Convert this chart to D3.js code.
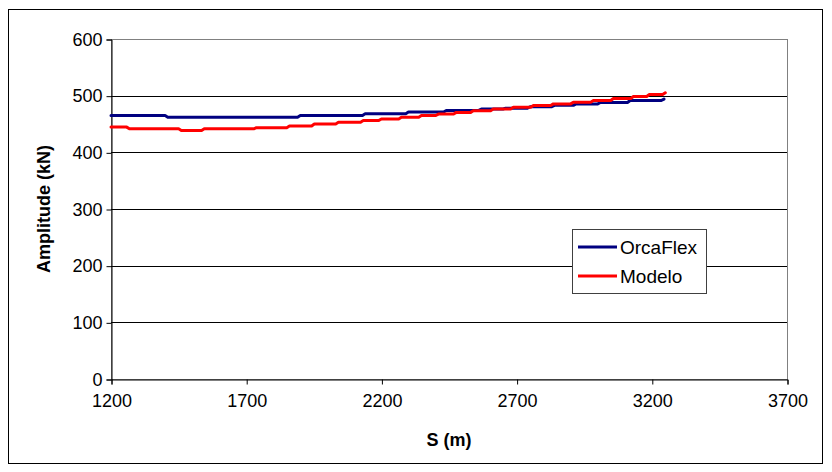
<!DOCTYPE html>
<html><head><meta charset="utf-8">
<script src="https://cdn.jsdelivr.net/npm/d3@7"></script>
<style>body{margin:0;background:#fff}svg{display:block;font-family:"Liberation Sans",Arial,sans-serif}</style>
</head><body><svg id="c" width="832" height="472"></svg>
<script>
const xTicks = [1200,1700,2200,2700,3200,3700];
const yTicks = [0,100,200,300,400,500,600];
const seriesNames = ["OrcaFlex","Modelo"];
const orcaflexS = [1200,1400,1410,1890,1900,2130,2140,2290,2300,2430,2440,2560,2570,2650,2660,2740,2750,2830,2840,2910,2920,3000,3010,3110,3120,3235,3245];
const orcaflexV = [465,465,462,462,465,465,468,468,471,471,474,474,476.5,476.5,478,478,480.5,480.5,483,483,485.5,485.5,488,488,491.5,491.5,494];
const modeloS = [1200,1258,1268,1450,1460,1535,1545,1728,1738,1850,1860,1942,1952,2031,2041,2123,2133,2190,2200,2264,2274,2338,2348,2401,2411,2467,2477,2530,2540,2604,2614,2678,2688,2752,2762,2826,2836,2900,2910,2974,2984,3048,3058,3122,3132,3181,3191,3240,3250];
const modeloV = [444.5,444.5,441.5,441.5,438.5,438.5,441.5,441.5,443.5,443.5,446.5,446.5,450,450,453,453,456,456,459,459,462,462,465,465,467.5,467.5,470.5,470.5,473.5,473.5,476.5,476.5,479.5,479.5,482.5,482.5,485.5,485.5,488.5,488.5,491.5,491.5,495,495,498.5,498.5,502,502,505];
const colors = ["#000080","#ff0000"];

const svg = d3.select("#c");
const L=111,R=787,T=39,B=379;
const x = d3.scaleLinear().domain([1200,3700]).range([L,R]);
const y = d3.scaleLinear().domain([0,600]).range([B,T]);

svg.append("rect").attr("x",8.5).attr("y",9.5).attr("width",814).attr("height",454)
  .attr("fill","#fff").attr("stroke","#000").attr("stroke-width",1);

// plot border
svg.append("rect").attr("x",L+0.5).attr("y",T+0.5).attr("width",R-L).attr("height",B-T)
  .attr("fill","none").attr("stroke","#808080").attr("stroke-width",1);

// gridlines
svg.append("g").selectAll("line").data(yTicks.filter(d=>d>0&&d<600)).join("line")
  .attr("x1",L).attr("x2",R).attr("y1",d=>Math.round(y(d))+0.5).attr("y2",d=>Math.round(y(d))+0.5)
  .attr("stroke","#000").attr("stroke-width",1);

// axes
const yAxis = svg.append("g").attr("transform",`translate(${L+0.5},0.5)`)
  .call(d3.axisLeft(y).tickValues(yTicks).tickSize(5).tickPadding(4).tickFormat(d3.format("d")));
const xAxis = svg.append("g").attr("transform",`translate(0.5,${B+0.5})`)
  .call(d3.axisBottom(x).tickValues(xTicks).tickSize(5).tickPadding(6).tickFormat(d3.format("d")));
[yAxis,xAxis].forEach(a=>{
  a.select(".domain").attr("stroke","#000");
  a.selectAll(".tick line").attr("stroke","#000");
  a.selectAll("text").attr("font-size","18px").attr("fill","#000").attr("font-family","Liberation Sans, Arial, sans-serif");
});
xAxis.selectAll("text").attr("dy","0.9em");

// lines
const line = d3.line().x(d=>x(d[0])).y(d=>y(d[1]));
const data = [d3.zip(orcaflexS,orcaflexV), d3.zip(modeloS,modeloV)];
svg.append("g").selectAll("path").data(data).join("path")
  .attr("d",line).attr("fill","none").attr("stroke",(d,i)=>colors[i])
  .attr("stroke-width",3).attr("stroke-linejoin","round").attr("stroke-linecap","round");

// axis titles
svg.append("text").attr("x",(L+R)/2).attr("y",446).attr("text-anchor","middle")
  .attr("font-size","18px").attr("font-weight","bold").text("S (m)");
svg.append("text").attr("transform",`translate(50,${(T+B)/2}) rotate(-90)`).attr("text-anchor","middle")
  .attr("font-size","18px").attr("font-weight","bold").text("Amplitude (kN)");

// legend
const lg = svg.append("g");
lg.append("rect").attr("x",572.5).attr("y",229.5).attr("width",134).attr("height",64)
  .attr("fill","#fff").attr("stroke","#404040").attr("stroke-width",1);
seriesNames.forEach((n,i)=>{
  const yy = 247 + i*29;
  lg.append("line").attr("x1",578).attr("x2",617).attr("y1",yy).attr("y2",yy)
    .attr("stroke",colors[i]).attr("stroke-width",3);
  lg.append("text").attr("x",620).attr("y",yy).attr("dy","0.35em").attr("font-size","19px").text(n);
});
</script></body></html>
